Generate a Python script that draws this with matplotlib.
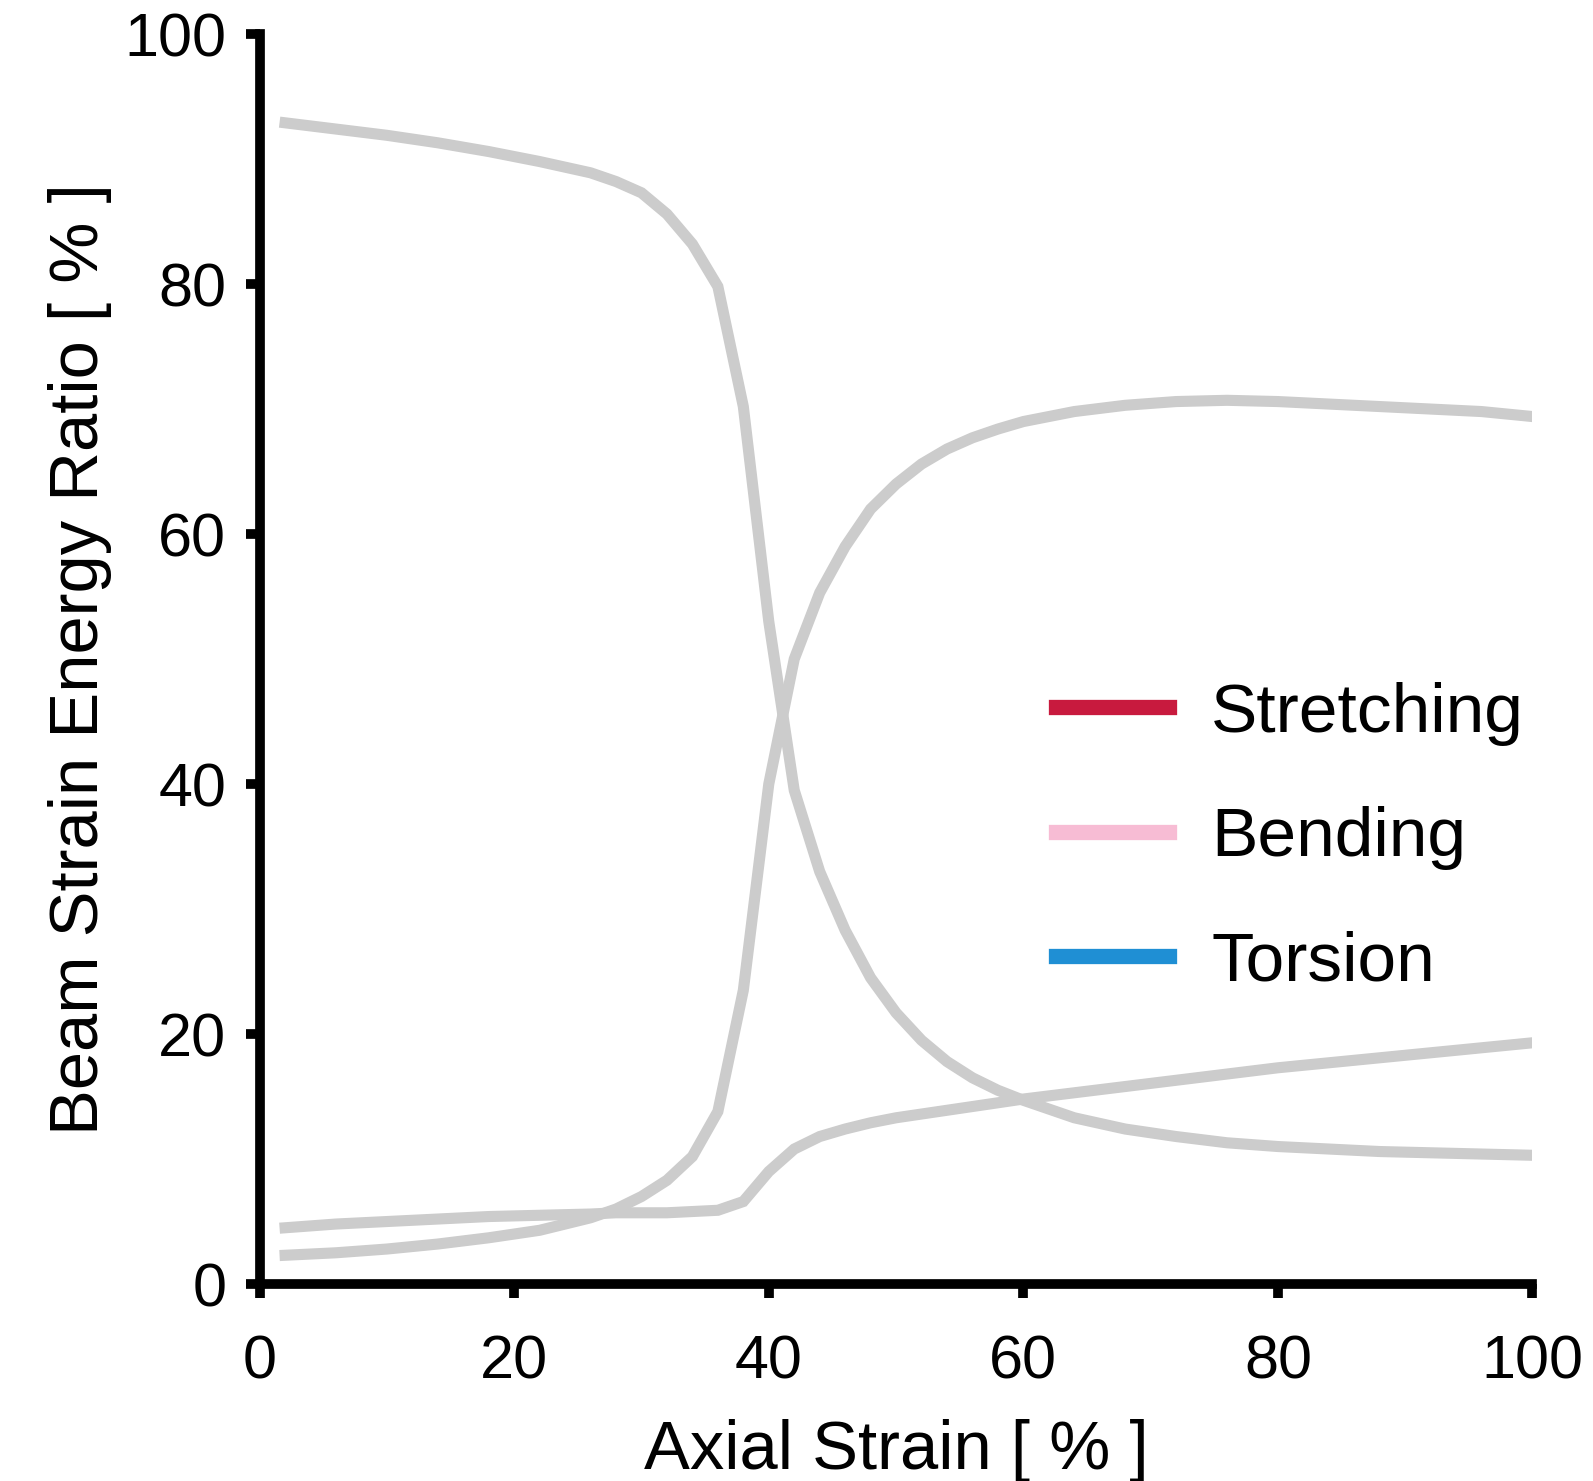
import matplotlib
matplotlib.use('Agg')
import matplotlib.pyplot as plt
from matplotlib.lines import Line2D

plt.rcParams['font.family'] = ['Liberation Sans', 'DejaVu Sans']

# axial strain [%]
strain = [2, 6, 10, 14, 18, 22, 26, 28, 30, 32, 34, 36, 38, 40, 42, 44, 46, 48,
          50, 52, 54, 56, 58, 60, 64, 68, 72, 76, 80, 84, 88, 92, 96, 100]

# three energy ratio curves [%]
curve_a = [92.9, 92.4, 91.9, 91.3, 90.6, 89.8, 88.9, 88.2, 87.3, 85.6, 83.2, 79.8,
           70.2, 53.0, 39.5, 33.0, 28.3, 24.5, 21.7, 19.5, 17.8, 16.5, 15.5, 14.7,
           13.3, 12.4, 11.8, 11.3, 11.0, 10.8, 10.6, 10.5, 10.4, 10.3]
curve_b = [2.3, 2.5, 2.8, 3.2, 3.7, 4.3, 5.3, 6.0, 7.0, 8.3, 10.2, 13.8,
           23.5, 40.0, 50.0, 55.3, 59.0, 62.0, 64.0, 65.6, 66.8, 67.7, 68.4, 69.0,
           69.8, 70.3, 70.6, 70.7, 70.6, 70.4, 70.2, 70.0, 69.8, 69.4]
curve_c = [4.5, 4.8, 5.0, 5.2, 5.4, 5.5, 5.6, 5.7, 5.7, 5.7, 5.8, 5.9,
           6.6, 9.0, 10.8, 11.8, 12.4, 12.9, 13.3, 13.6, 13.9, 14.2, 14.5, 14.8,
           15.3, 15.8, 16.3, 16.8, 17.3, 17.7, 18.1, 18.5, 18.9, 19.3]

legend_labels = ['Stretching', 'Bending', 'Torsion']
legend_colors = ['#c81a3e', '#f7bcd4', '#1f8fd4']

fig = plt.figure(figsize=(15.93, 14.81), dpi=100)
ax = fig.add_axes([0.163, 0.133, 0.799, 0.844])

for y in [curve_a, curve_b, curve_c]:
    ax.plot(strain, y, color='#cccccc', lw=8, solid_joinstyle='miter')

ax.set_xlim(0, 100)
ax.set_ylim(0, 100)
ax.set_xticks([0, 20, 40, 60, 80, 100])
ax.set_yticks([0, 20, 40, 60, 80, 100])

for s in ['top', 'right']:
    ax.spines[s].set_visible(False)
for s in ['left', 'bottom']:
    ax.spines[s].set_linewidth(7)
ax.tick_params(width=7, length=10, labelsize=44)
ax.tick_params(axis='x', pad=26)
ax.tick_params(axis='y', pad=14)

ax.set_xlabel('Axial Strain [ % ]', fontsize=49.5, labelpad=20)
ax.set_ylabel('Beam Strain Energy Ratio [ % ]', fontsize=49.5, labelpad=9)

handles = [Line2D([0], [0], color=c, lw=11) for c in legend_colors]
ax.legend(handles, legend_labels, loc='upper left', bbox_to_anchor=(0.626, 0.482),
          frameon=False, fontsize=50, handlelength=1.62, handletextpad=0.61,
          labelspacing=0.87, borderpad=0, borderaxespad=0)

fig.savefig('out.png', dpi=100)
